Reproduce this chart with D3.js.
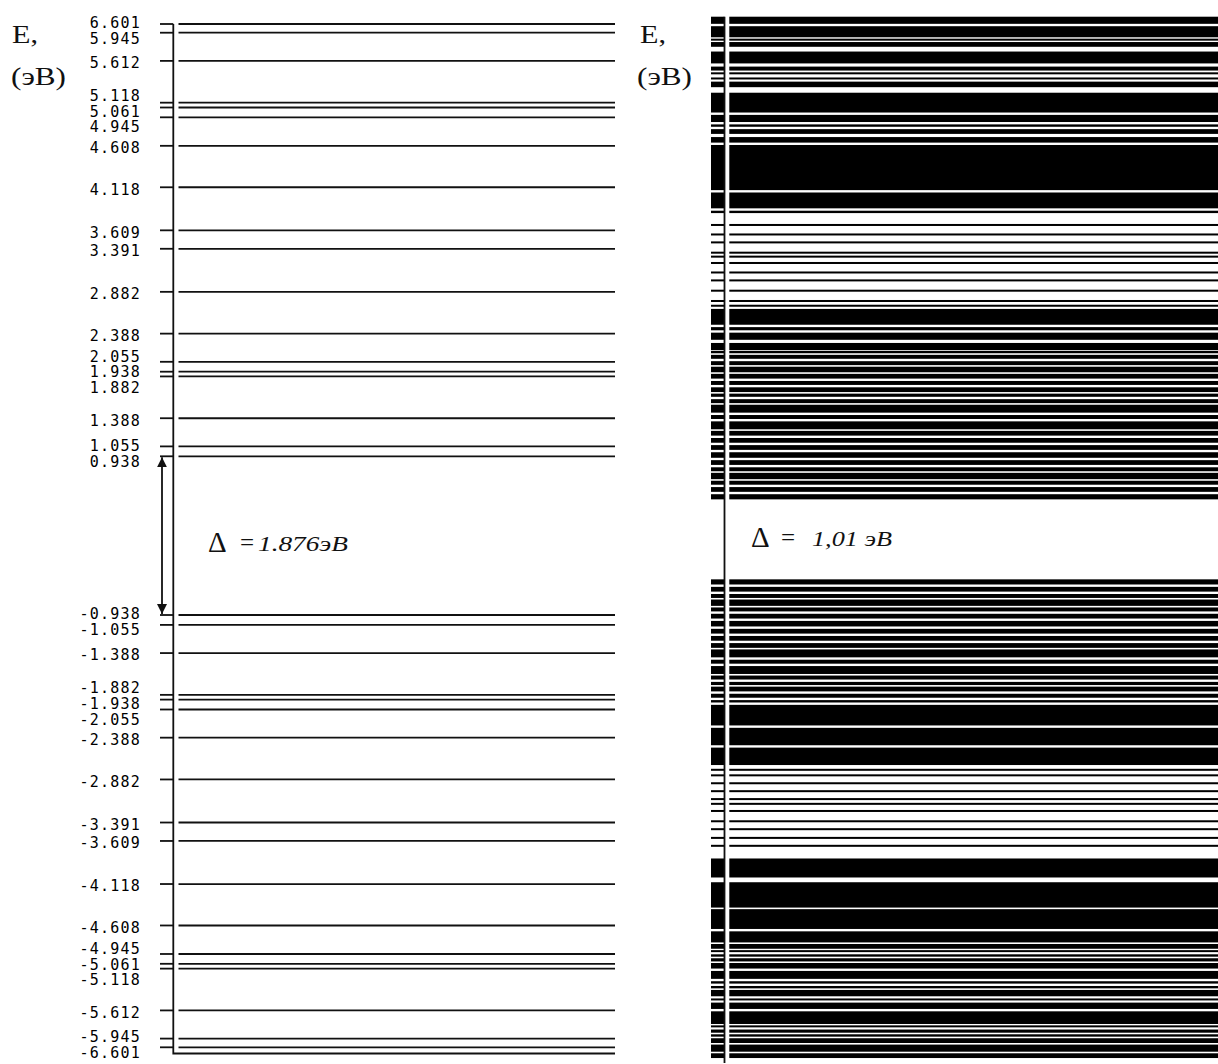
<!DOCTYPE html>
<html>
<head>
<meta charset="utf-8">
<script src="https://cdn.jsdelivr.net/npm/d3@7"></script>
<style>
  body { margin: 0; background: #fff; }
  text { fill: #111; }
</style>
</head>
<body>
<div id="chart"></div>
<script>
// left diagram: discrete levels, eV
const levelsLeft = [6.601, 5.945, 5.612, 5.118, 5.061, 4.945, 4.608, 4.118, 3.609, 3.391, 2.882,
  2.388, 2.055, 1.938, 1.882, 1.388, 1.055, 0.938,
  -0.938, -1.055, -1.388, -1.882, -1.938, -2.055, -2.388, -2.882, -3.391, -3.609, -4.118,
  -4.608, -4.945, -5.061, -5.118, -5.612, -5.945, -6.601];
const gapLeft = [0.938, -0.938];
const gapLeftText = "1.876эВ";

// right diagram: dense levels, [top, bottom] in eV (single level when top == bottom)
const bandsRightUpper = [
  [6.60, 6.51], [6.48, 6.34], [6.31, 6.31], [6.28, 6.22], [6.16, 6.01], [5.97, 5.92],
  [5.89, 5.88], [5.83, 5.81], [5.78, 5.71], [5.64, 5.39], [5.36, 5.27], [5.24, 5.21],
  [5.18, 5.12], [5.08, 5.01], [4.98, 4.41], [4.38, 4.18], [4.15, 4.12],
  [3.97, 3.97], [3.85, 3.85], [3.75, 3.75], [3.62, 3.62], [3.57, 3.57], [3.49, 3.49],
  [3.37, 3.37], [3.27, 3.27], [3.14, 3.14], [3.01, 3.01], [2.95, 2.95],
  [2.91, 2.71], [2.68, 2.64], [2.61, 2.52], [2.48, 2.39], [2.38, 2.35], [2.33, 2.28],
  [2.25, 2.20], [2.18, 2.11], [2.09, 2.03], [2.00, 1.95], [1.92, 1.86], [1.84, 1.80],
  [1.77, 1.72], [1.70, 1.60], [1.57, 1.52], [1.49, 1.39], [1.37, 1.31], [1.28, 1.22],
  [1.19, 1.13], [1.10, 1.03], [1.00, 0.94], [0.91, 0.86], [0.84, 0.76], [0.74, 0.69],
  [0.66, 0.60], [0.57, 0.505]
];
const bandsRightLower = [
  [-0.505, -0.57], [-0.60, -0.66], [-0.69, -0.74], [-0.76, -0.84], [-0.86, -0.91],
  [-0.94, -1.00], [-1.03, -1.10], [-1.13, -1.19], [-1.22, -1.28], [-1.31, -1.37],
  [-1.39, -1.49], [-1.52, -1.57], [-1.60, -1.70], [-1.72, -1.77], [-1.80, -1.84],
  [-1.86, -1.92], [-1.95, -2.00], [-2.03, -2.06], [-2.09, -2.35], [-2.38, -2.60],
  [-2.63, -2.85], [-2.91, -2.91],
  [-2.98, -2.98], [-3.08, -3.08], [-3.18, -3.18], [-3.28, -3.28], [-3.34, -3.34],
  [-3.43, -3.43], [-3.56, -3.56], [-3.66, -3.66], [-3.77, -3.77], [-3.87, -3.87],
  [-4.03, -4.27], [-4.33, -4.65], [-4.67, -4.92], [-4.95, -5.09], [-5.11, -5.17],
  [-5.20, -5.20], [-5.24, -5.27], [-5.29, -5.33], [-5.35, -5.42], [-5.45, -5.55],
  [-5.58, -5.61], [-5.64, -5.67], [-5.69, -5.77], [-5.80, -5.82], [-5.85, -5.93],
  [-5.96, -6.12], [-6.14, -6.16], [-6.19, -6.23], [-6.25, -6.28], [-6.30, -6.36],
  [-6.38, -6.47], [-6.49, -6.55]
];
const gapRightText = "1,01 эВ";
const axisTitle = ["E,", "(эВ)"];

const W = 1218, H = 1064;
const svg = d3.select("#chart").append("svg").attr("width", W).attr("height", H);
const serif = "'Liberation Serif', 'Times New Roman', serif";

// ---------- left panel ----------
const yL = d3.scaleLinear().domain([-6.048, 6.048]).range([1047.3, 24]).clamp(true);
const axL = 173.3;
const gL = svg.append("g");

gL.append("path")
  .attr("d", `M${axL},${yL(6.601)}V1053.5H615`)
  .attr("fill", "none").attr("stroke", "#111").attr("stroke-width", 1.8);

gL.selectAll("line.tick").data(levelsLeft).enter().append("line")
  .attr("class", "tick")
  .attr("x1", 160).attr("x2", axL)
  .attr("y1", d => yL(d)).attr("y2", d => yL(d))
  .attr("stroke", "#111").attr("stroke-width", 1.8);

gL.selectAll("line.level").data(levelsLeft).enter().append("line")
  .attr("class", "level")
  .attr("x1", 178.5).attr("x2", 615)
  .attr("y1", d => yL(d)).attr("y2", d => yL(d))
  .attr("stroke", "#111").attr("stroke-width", 1.8);

// spread tick labels so they don't collide
function spreadLabels(values, yScale, offset, gap) {
  let groups = values.map(v => ({ items: [v], c: yScale(v) + offset }))
    .sort((a, b) => a.c - b.c);
  groups.forEach(g => g.want = [g.c]);
  let merged = true;
  while (merged) {
    merged = false;
    for (let i = 0; i < groups.length - 1; i++) {
      const a = groups[i], b = groups[i + 1];
      const aBot = a.c + (a.items.length - 1) / 2 * gap;
      const bTop = b.c - (b.items.length - 1) / 2 * gap;
      if (bTop - aBot < gap) {
        const items = a.items.concat(b.items), want = a.want.concat(b.want);
        groups.splice(i, 2, { items, want, c: d3.mean(want) });
        merged = true;
        break;
      }
    }
  }
  const out = [];
  groups.forEach(g => g.items.forEach((v, k) =>
    out.push({ v, y: g.c + (k - (g.items.length - 1) / 2) * gap })));
  return out;
}

const placed = spreadLabels(levelsLeft, yL, 2, 15.8);
gL.selectAll("text.lab").data(placed).enter().append("text")
  .attr("class", "lab")
  .attr("x", 141).attr("y", d => d.y)
  .attr("dy", "0.36em")
  .attr("text-anchor", "end")
  .style("font-family", "'DejaVu Sans Mono', monospace")
  .style("font-size", "15px")
  .style("letter-spacing", "1.2px")
  .style("fill", "#000")
  .text(d => d.v.toFixed(3));

// gap arrow
const defs = svg.append("defs");
defs.append("marker").attr("id", "ah").attr("viewBox", "0 0 10 10")
  .attr("refX", 10).attr("refY", 5).attr("markerWidth", 10).attr("markerHeight", 10)
  .attr("markerUnits", "userSpaceOnUse").attr("orient", "auto-start-reverse")
  .append("path").attr("d", "M0,0L10,5L0,10Z").attr("fill", "#111");

gL.append("line")
  .attr("x1", 162).attr("x2", 162)
  .attr("y1", yL(gapLeft[0]) + 1).attr("y2", yL(gapLeft[1]) - 1)
  .attr("stroke", "#111").attr("stroke-width", 1.8)
  .attr("marker-start", "url(#ah)").attr("marker-end", "url(#ah)");

function gapLabel(g, x, y, txt, len) {
  g.append("text").attr("x", x[0]).attr("y", y)
    .style("font-family", serif).style("font-size", "29px").text("Δ");
  g.append("text").attr("x", x[1]).attr("y", y - 1)
    .style("font-family", serif).style("font-size", "25px").text("=");
  g.append("text").attr("x", x[2]).attr("y", y - 1)
    .style("font-family", serif).style("font-size", "22px").style("font-style", "italic")
    .attr("textLength", len).attr("lengthAdjust", "spacingAndGlyphs").text(txt);
}
gapLabel(gL, [208, 240, 258], 552, gapLeftText, 90);

// ---------- right panel ----------
const yR = d3.scaleLinear().domain([-6.6, 6.6]).range([1062, 16.7]);
const axR = 724.5;
const gR = svg.append("g");
const bandsRight = bandsRightUpper.concat(bandsRightLower);

function bandY(d) {
  const y1 = yR(d[0]), y2 = yR(d[1]);
  return y2 - y1 < 2 ? (y1 + y2) / 2 - 1 : y1;
}
function bandH(d) {
  return Math.max(2, yR(d[1]) - yR(d[0]));
}

gR.selectAll("rect.tk").data(bandsRight).enter().append("rect")
  .attr("class", "tk")
  .attr("x", 711).attr("width", axR - 711)
  .attr("y", bandY).attr("height", bandH)
  .attr("fill", "#000");

gR.selectAll("rect.lv").data(bandsRight).enter().append("rect")
  .attr("class", "lv")
  .attr("x", 729.3).attr("width", W - 729.3)
  .attr("y", bandY).attr("height", bandH)
  .attr("fill", "#000");

gR.append("line")
  .attr("x1", axR).attr("x2", axR)
  .attr("y1", yR(6.6)).attr("y2", 1063)
  .attr("stroke", "#111").attr("stroke-width", 1.8);

gapLabel(gR, [751, 781, 812], 547, gapRightText, 80);

// ---------- axis titles ----------
[[12, 11], [640, 637]].forEach(([xe, xb]) => {
  svg.append("text").attr("x", xe).attr("y", 43)
    .style("font-family", serif).style("font-size", "26px")
    .attr("textLength", 26).attr("lengthAdjust", "spacingAndGlyphs")
    .text(axisTitle[0]);
  svg.append("text").attr("x", xb).attr("y", 85)
    .style("font-family", serif).style("font-size", "26px")
    .attr("textLength", 55).attr("lengthAdjust", "spacingAndGlyphs")
    .text(axisTitle[1]);
});
</script>
</body>
</html>
